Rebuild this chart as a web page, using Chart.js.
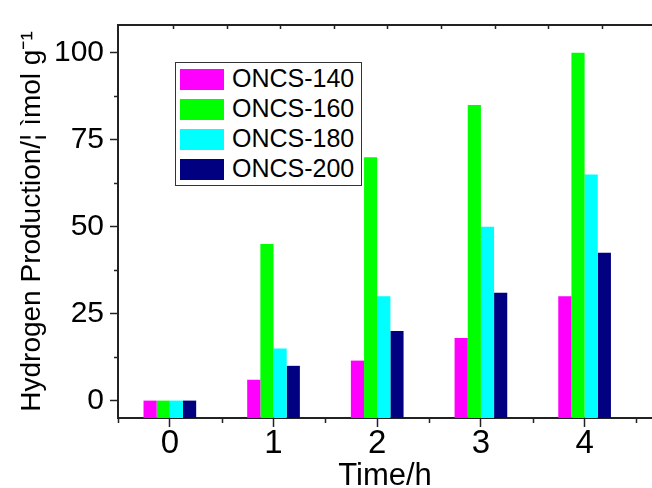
<!DOCTYPE html>
<html>
<head>
<meta charset="utf-8">
<script src="https://cdn.jsdelivr.net/npm/chart.js@4.4.0/dist/chart.umd.min.js"></script>
<style>
  body{margin:0;background:#fff;overflow:hidden}
  #wrap{position:relative;width:652px;height:488px}
  #legend{position:absolute;left:175px;top:62px;width:187px;height:124px;border:1px solid #333;background:#fff;box-sizing:border-box;font-family:"Liberation Sans",Arial,sans-serif;font-size:25px;color:#000}
  .sw{position:absolute;left:4px;width:44px;height:21px}
  .lab{position:absolute;left:56px;line-height:22px;white-space:nowrap}
</style>
</head>
<body>
<div id="wrap">
  <canvas id="myChart" width="652" height="488"></canvas>
  <div id="legend"></div>
</div>
<script>
const times=[0,1,2,3,4];
const seriesNames=["ONCS-140","ONCS-160","ONCS-180","ONCS-200"];
const oncs140=[0,6,11.5,18,30];
const oncs160=[0,45,70,85,100];
const oncs180=[0,15,30,50,65];
const oncs200=[0,10,20,31,42.5];
const colors=["#ff00ff","#00ff00","#00ffff","#000080"];
const yTicks=[0,25,50,75,100];
const yMinor=[12.5,37.5,62.5,87.5];
const xMinor=[-0.5,0.5,1.5,2.5,3.5,4.5];
const yMin=-5, yMax=108;

const allSeries=[oncs140,oncs160,oncs180,oncs200];
const font="'Liberation Sans', Arial, sans-serif";

// legend in html, from the series names
const legend=document.getElementById("legend");
for(let i=0;i<seriesNames.length;i++){
    let sw=document.createElement("div");
    sw.className="sw";
    sw.style.top=(6+30*i)+"px";
    sw.style.background=colors[i];
    legend.appendChild(sw);
    let lab=document.createElement("div");
    lab.className="lab";
    lab.style.top=(4+30*i)+"px";
    lab.innerText=seriesNames[i];
    legend.appendChild(lab);
}

// minor ticks + top frame line
const frame={
    id:"frame",
    afterDraw(chart){
        const ctx=chart.ctx;
        const a=chart.chartArea;
        const x=chart.scales.x, y=chart.scales.y;
        ctx.save();
        ctx.strokeStyle="#222";
        ctx.lineWidth=2;
        ctx.beginPath();
        ctx.moveTo(a.left-1,a.top);
        ctx.lineTo(a.right,a.top);
        ctx.stroke();
        ctx.lineWidth=1.5;
        ctx.beginPath();
        for(const v of yMinor){
            let py=Math.round(y.getPixelForValue(v))+0.5;
            ctx.moveTo(a.left-4,py);ctx.lineTo(a.left,py);
        }
        for(const v of xMinor){
            let px=Math.round(x.getPixelForValue(v))+0.5;
            ctx.moveTo(px,a.bottom);ctx.lineTo(px,a.bottom+5);
        }
        // top axis ticks (spaced a bit differently in the original)
        for(let k=0;k<9;k++){
            let px=Math.round(x.getPixelForValue(0.03+0.517*k))+0.5;
            ctx.moveTo(px,a.top);ctx.lineTo(px,a.top+4);
        }
        ctx.stroke();
        ctx.restore();
    }
};

let barChart=new Chart("myChart",{
    type:"bar",
    data:{
        datasets:allSeries.map((s,i)=>({
            label:seriesNames[i],
            data:times.map((t,j)=>({x:t,y:s[j]})),
            backgroundColor:colors[i],
            borderWidth:0,
            base:yMin
        }))
    },
    options:{
        responsive:false,
        animation:false,
        devicePixelRatio:1,
        categoryPercentage:0.508,
        barPercentage:1,
        layout:{padding:{top:25,right:0,left:0,bottom:0}},
        plugins:{
            legend:{display:false},
            tooltip:{enabled:false}
        },
        scales:{
            x:{
                type:"linear",
                offset:false,
                min:-0.5,
                max:4.65,
                afterBuildTicks:s=>{s.ticks=times.map(v=>({value:v}))},
                afterFit:s=>{s.height=70},
                grid:{offset:false,drawOnChartArea:false,tickLength:9,tickColor:"#222",tickWidth:1.5},
                border:{color:"#222",width:2},
                ticks:{color:"#000",padding:0,font:{family:font,size:33,lineHeight:1},callback:v=>String(v)},
                title:{display:true,text:"Time/h",color:"#000",font:{family:font,size:31},padding:{top:0,bottom:-7}}
            },
            y:{
                min:yMin,
                max:yMax,
                afterBuildTicks:s=>{s.ticks=yTicks.map(v=>({value:v}))},
                afterFit:s=>{s.width=118},
                grid:{drawOnChartArea:false,tickLength:8,tickColor:"#222",tickWidth:1.5},
                border:{color:"#222",width:2},
                ticks:{color:"#000",padding:6,font:{family:font,size:30},callback:v=>String(v)},
                title:{display:true,text:"Hydrogen Production/¦ ìmol g\u207B\u00B9",color:"#000",font:{family:font,size:28},padding:{top:15,bottom:0}}
            }
        }
    },
    plugins:[frame]
});
</script>
</body>
</html>
